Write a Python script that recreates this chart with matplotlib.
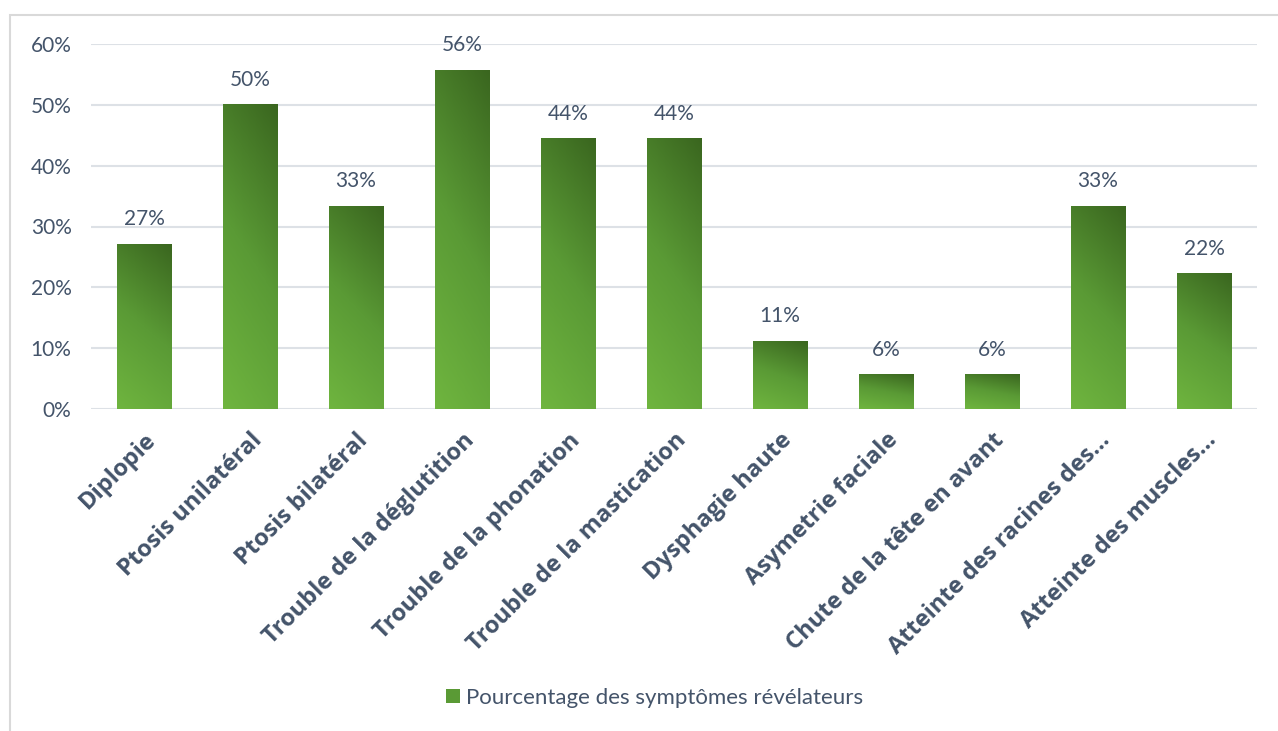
import numpy as np
import matplotlib.pyplot as plt
from matplotlib.colors import LinearSegmentedColormap
from matplotlib.patches import Rectangle, Patch

categories = ["Diplopie", "Ptosis unilatéral", "Ptosis bilatéral",
              "Trouble de la déglutition", "Trouble de la phonation",
              "Trouble de la mastication", "Dysphagie haute",
              "Asymetrie faciale", "Chute de la tête en avant",
              "Atteinte des racines des…", "Atteinte des muscles…"]
values = [27.0, 50.0, 33.3, 55.6, 44.4, 44.4, 11.1, 5.6, 5.6, 33.3, 22.2]
yticks = [0, 10, 20, 30, 40, 50, 60]
legend_label = "Pourcentage des symptômes révélateurs"

text_col = "#44546a"
grid_col = "#dde1e6"
green = LinearSegmentedColormap.from_list("g", ["#6fb53f", "#5a9a35", "#3a661f"])

fig = plt.figure(figsize=(12.78, 7.31), dpi=100)
fig.patches.append(Rectangle((10 / 1278, -0.05), 1.1, 0.05 + (731 - 15) / 731,
                             transform=fig.transFigure, fill=False,
                             edgecolor="#d9d9d9", lw=1.5))
ax = fig.add_axes([91 / 1278, 1 - 409 / 731, (1257 - 91) / 1278, (409 - 44) / 731])

x = np.arange(len(categories))
width = 0.51
bars = ax.bar(x, values, width=width, color="none", zorder=3)

# diagonal gradient inside each bar (light bottom-left -> dark top-right)
u, v = np.meshgrid(np.linspace(0, 1, 50), np.linspace(0, 1, 200))
grad = 0.22 * u + 0.78 * v
for b in bars:
    x0, y0 = b.get_x(), b.get_y()
    ax.imshow(grad, cmap=green, origin="lower", aspect="auto", zorder=3,
              extent=[x0, x0 + b.get_width(), y0, y0 + b.get_height()],
              interpolation="bilinear")

for xi, val in zip(x, values):
    ax.annotate(f"{val:.0f}%", (xi, val), xytext=(0, 11), textcoords="offset points",
                ha="center", va="bottom", fontsize=15, color=text_col, family="Lato")

ax.set_xlim(-0.5, len(categories) - 0.5)
ax.set_ylim(0, 60)
ax.set_yticks(yticks)
ax.set_yticklabels([f"{t}%" for t in yticks], fontsize=15, color=text_col, family="Lato")
ax.set_xticks(x)
ax.set_xticklabels(categories, rotation=45, ha="right", va="top",
                   rotation_mode="anchor", fontsize=17, fontweight="bold",
                   color=text_col, family="Open Sans")
ax.tick_params(length=0, pad=14)
ax.tick_params(axis="x", pad=14)
ax.grid(axis="y", color=grid_col, lw=1.5, zorder=0)
for s in ax.spines.values():
    s.set_visible(False)

fig.legend(handles=[Patch(facecolor="#5a9a35", edgecolor="none")], labels=[legend_label],
           loc="center", bbox_to_anchor=(655 / 1278, 1 - 698 / 731), frameon=False,
           prop={"family": "Lato", "size": 16}, labelcolor=text_col,
           handlelength=0.6, handleheight=0.6, handletextpad=0.3)

fig.savefig("out.png", dpi=100)
